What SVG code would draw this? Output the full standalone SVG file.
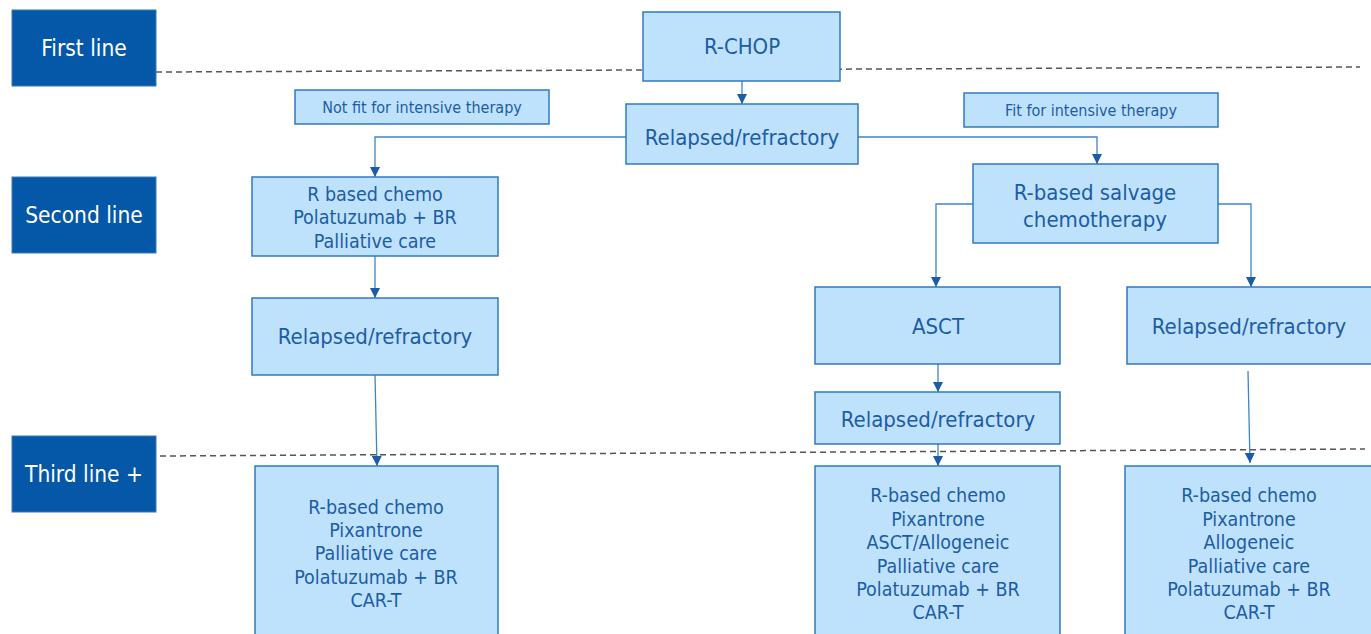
<svg xmlns="http://www.w3.org/2000/svg" width="1371" height="634" viewBox="0 0 1371 634">
<defs>
<style>
.lbl rect{fill:#0558A8;stroke:#3C78B8;stroke-width:1}
.lbl text{fill:#fff;font-family:"DejaVu Sans Condensed","DejaVu Sans",sans-serif;font-size:22.5px;text-anchor:middle}
.nd rect{fill:#BFE2FC;stroke:#2F7AC2;stroke-width:1.5}
.nd text{fill:#1C5CA6;font-family:"DejaVu Sans Condensed","DejaVu Sans",sans-serif;font-size:19.5px;text-anchor:middle}
.big text{font-size:22px}
.sm text{font-size:16px}
.dash{stroke:#555;stroke-width:1.5;stroke-dasharray:6,4;fill:none}
.con{stroke:#3D84C8;stroke-width:1.3;fill:none;marker-end:url(#ah)}
</style>
<marker id="ah" viewBox="0 0 10 10" refX="10" refY="5" markerWidth="10" markerHeight="10" markerUnits="userSpaceOnUse" orient="auto">
<path d="M0,0 L10,5 L0,10 z" fill="#1C5CA6"/>
</marker>
</defs>
<g id="dividers">
<line class="dash" x1="156" y1="72" x2="1360" y2="67"/>
<line class="dash" x1="160" y1="456" x2="1365" y2="449"/>
</g>
<g id="lbl-first" class="lbl"><rect x="12" y="10" width="144" height="76"/><text x="84" y="56">First line</text></g>
<g id="lbl-second" class="lbl"><rect x="12" y="177" width="144" height="76"/><text x="84" y="223">Second line</text></g>
<g id="lbl-third" class="lbl"><rect x="12" y="436" width="144" height="76"/><text x="84" y="482">Third line +</text></g>
<g id="connectors">
<line class="con" x1="742" y1="81" x2="742" y2="104"/>
<polyline class="con" points="626,137 375,137 375,177"/>
<polyline class="con" points="858,137 1097,137 1097,164"/>
<line class="con" x1="375" y1="256" x2="375" y2="298"/>
<line class="con" x1="375" y1="375" x2="377" y2="466"/>
<polyline class="con" points="973,204 936,204 936,287"/>
<polyline class="con" points="1218,204 1251,204 1251,287"/>
<line class="con" x1="938" y1="364" x2="938" y2="392"/>
<line class="con" x1="938" y1="444" x2="938" y2="466"/>
<line class="con" x1="1248" y1="371" x2="1250" y2="463"/>
</g>
<g id="rchop" class="nd big"><rect x="643" y="12" width="197" height="69"/><text x="742" y="54">R-CHOP</text></g>
<g id="rr-top" class="nd big"><rect x="626" y="104" width="232" height="60"/><text x="742" y="145">Relapsed/refractory</text></g>
<g id="notfit" class="nd sm"><rect x="295" y="90" width="254" height="34"/><text x="422" y="113">Not fit for intensive therapy</text></g>
<g id="fit" class="nd sm"><rect x="964" y="93" width="254" height="34"/><text x="1091" y="116">Fit for intensive therapy</text></g>
<g id="r-chemo" class="nd"><rect x="252" y="177" width="246" height="79"/>
<text x="375" y="201">R based chemo</text><text x="375" y="224">Polatuzumab + BR</text><text x="375" y="248">Palliative care</text></g>
<g id="rr-left" class="nd big"><rect x="252" y="298" width="246" height="77"/><text x="375" y="344">Relapsed/refractory</text></g>
<g id="third-left" class="nd"><rect x="255" y="466" width="243" height="175"/>
<text x="376" y="514">R-based chemo</text><text x="376" y="537">Pixantrone</text><text x="376" y="560">Palliative care</text><text x="376" y="584">Polatuzumab + BR</text><text x="376" y="607">CAR-T</text></g>
<g id="salvage" class="nd big"><rect x="973" y="164" width="245" height="79"/><text x="1095" y="200">R-based salvage</text><text x="1095" y="227">chemotherapy</text></g>
<g id="asct" class="nd big"><rect x="815" y="287" width="245" height="77"/><text x="938" y="334">ASCT</text></g>
<g id="rr-right" class="nd big"><rect x="1127" y="287" width="250" height="77"/><text x="1249" y="334">Relapsed/refractory</text></g>
<g id="rr-mid" class="nd big"><rect x="815" y="392" width="245" height="52"/><text x="938" y="427">Relapsed/refractory</text></g>
<g id="third-mid" class="nd"><rect x="815" y="466" width="245" height="175"/>
<text x="938" y="502">R-based chemo</text><text x="938" y="526">Pixantrone</text><text x="938" y="549">ASCT/Allogeneic</text><text x="938" y="573">Palliative care</text><text x="938" y="596">Polatuzumab + BR</text><text x="938" y="619">CAR-T</text></g>
<g id="third-right" class="nd"><rect x="1125" y="466" width="250" height="175"/>
<text x="1249" y="502">R-based chemo</text><text x="1249" y="526">Pixantrone</text><text x="1249" y="549">Allogeneic</text><text x="1249" y="573">Palliative care</text><text x="1249" y="596">Polatuzumab + BR</text><text x="1249" y="619">CAR-T</text></g>
</svg>
